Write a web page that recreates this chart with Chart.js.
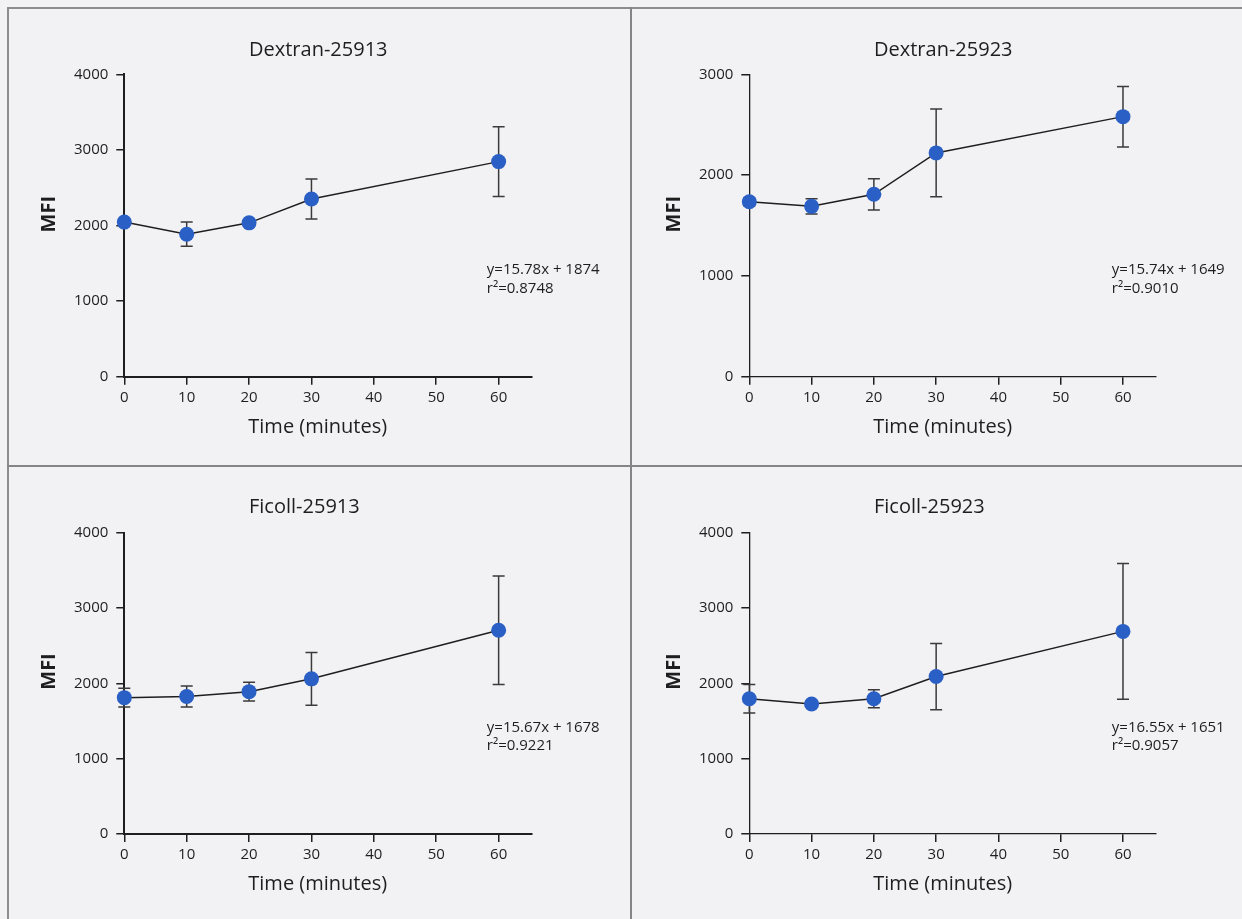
<!DOCTYPE html>
<html>
<head>
<meta charset="utf-8">
<script src="https://cdn.jsdelivr.net/npm/chart.js@4.4.1/dist/chart.umd.min.js"></script>
<style>
  html, body { margin:0; padding:0; background:#f2f2f4; }
  #page { position:relative; width:1242px; height:919px; overflow:hidden; background:#f2f2f4; }
  .frame-l { position:absolute; left:7px; top:7px; width:2px; height:912px; background:#8c8c8c; }
  .frame-t { position:absolute; left:7px; top:7px; width:1235px; height:2px; background:#8c8c8c; }
  .div-v { position:absolute; left:630px; top:7px; width:2px; height:912px; background:#858585; }
  .div-h { position:absolute; left:7px; top:465px; width:1235px; height:2px; background:#858585; }
  .panel { position:absolute; }
</style>
</head>
<body>
<div id="page">
  <div class="frame-l"></div><div class="frame-t"></div>
  <div class="div-v"></div><div class="div-h"></div>
  <div class="panel" style="left:0;top:0;width:631px;height:466px"><canvas id="c0"></canvas></div>
  <div class="panel" style="left:632px;top:0;width:610px;height:466px"><canvas id="c1"></canvas></div>
  <div class="panel" style="left:0;top:467px;width:631px;height:452px"><canvas id="c2"></canvas></div>
  <div class="panel" style="left:632px;top:467px;width:610px;height:452px"><canvas id="c3"></canvas></div>
</div>
<script>
// data
const titles = ['Dextran-25913', 'Dextran-25923', 'Ficoll-25913', 'Ficoll-25923'];
const xLabel = 'Time (minutes)';
const yLabel = 'MFI';
const timePoints = [0, 10, 20, 30, 60];
const xTicks = [0, 10, 20, 30, 40, 50, 60];

const dex13Mean = [2045, 1885, 2035, 2350, 2845];
const dex13Err  = [40, 160, 40, 265, 460];
const dex23Mean = [1735, 1690, 1810, 2220, 2580];
const dex23Err  = [40, 75, 155, 435, 300];
const fic13Mean = [1810, 1825, 1890, 2060, 2705];
const fic13Err  = [125, 140, 125, 350, 720];
const fic23Mean = [1795, 1725, 1795, 2090, 2690];
const fic23Err  = [190, 40, 120, 440, 900];

const yMax = [4000, 3000, 4000, 4000];
const fitLines = [
  ['y=15.78x + 1874', 'r\u00b2=0.8748'],
  ['y=15.74x + 1649', 'r\u00b2=0.9010'],
  ['y=15.67x + 1678', 'r\u00b2=0.9221'],
  ['y=16.55x + 1651', 'r\u00b2=0.9057']
];
const means = [dex13Mean, dex23Mean, fic13Mean, fic23Mean];
const errs = [dex13Err, dex23Err, fic13Err, fic23Err];

// plot box of each panel inside its canvas
const boxes = [
  { w:631, h:466, left:124.3, right:531.7, top:74.3, bottom:376.7, tGap:24.3, axisW:2 },
  { w:610, h:466, left:117.3, right:524,   top:74.3, bottom:376.7, tGap:24.3, axisW:1.3 },
  { w:631, h:452, left:124.3, right:531.7, top:65.7, bottom:367,   tGap:25.7, axisW:2 },
  { w:610, h:452, left:117.3, right:524,   top:65.7, bottom:367,   tGap:25.7, axisW:1.3 }
];

const FONT = "'Open Sans', sans-serif";
Chart.defaults.font.family = FONT;
Chart.defaults.color = '#1e1e1e';

const errorBars = {
  id: 'errorBars',
  beforeDatasetsDraw(chart, args, opts) {
    const { ctx, scales: { x, y } } = chart;
    const pts = chart.data.datasets[0].data;
    ctx.save();
    ctx.strokeStyle = '#3a3a3a';
    ctx.lineWidth = 1.5;
    pts.forEach((p, i) => {
      const e = opts.errors[i];
      const px = x.getPixelForValue(p.x);
      const hi = y.getPixelForValue(p.y + e), lo = y.getPixelForValue(p.y - e);
      ctx.beginPath();
      ctx.moveTo(px, hi); ctx.lineTo(px, lo);
      ctx.moveTo(px - 6, hi); ctx.lineTo(px + 6, hi);
      ctx.moveTo(px - 6, lo); ctx.lineTo(px + 6, lo);
      ctx.stroke();
    });
    ctx.restore();
  }
};

// panel title, axis titles and the fit equation
const panelText = {
  id: 'panelText',
  afterDraw(chart, args, opts) {
    const { ctx, chartArea: a } = chart;
    ctx.save();
    ctx.fillStyle = '#1e1e1e';
    ctx.textBaseline = 'middle';
    ctx.textAlign = 'left';
    ctx.font = '500 20px ' + FONT;
    ctx.fillText(opts.title, a.left + 124.7, a.top - opts.tGap);
    ctx.fillText(xLabel, a.left + 124, a.bottom + 50.5);
    ctx.font = '15px ' + FONT;
    ctx.fillText(opts.lines[0], a.left + 362.5, a.bottom - 106.5);
    ctx.fillText(opts.lines[1], a.left + 362.5, a.bottom - 88);
    ctx.translate(a.left - 75, a.bottom - 162.5);
    ctx.rotate(-Math.PI / 2);
    ctx.textAlign = 'center';
    ctx.font = 'bold 20px ' + FONT;
    ctx.fillText(yLabel, 0, 0);
    ctx.restore();
  }
};

function makeChart(i) {
  const b = boxes[i];
  const pts = timePoints.map((t, k) => ({ x: t, y: means[i][k] }));
  return new Chart(document.getElementById('c' + i), {
    type: 'scatter',
    data: { datasets: [{
      data: pts, showLine: true, clip: false,
      borderColor: '#1e1e1e', borderWidth: 1.5,
      pointRadius: 7.5, pointHoverRadius: 7.5,
      pointBackgroundColor: '#2a5fc6', pointBorderWidth: 0
    }] },
    options: {
      responsive: true, maintainAspectRatio: false, animation: false,
      layout: { padding: { left: 0, top: b.top, right: b.w - b.right, bottom: 0 } },
      plugins: {
        legend: { display: false },
        tooltip: { enabled: false },
        title: { display: false },
        errorBars: { errors: errs[i] },
        panelText: { title: titles[i], tGap: b.tGap, lines: fitLines[i] }
      },
      scales: {
        x: {
          type: 'linear', min: 0, max: 65.3,
          afterFit: s => { s.height = b.h - b.bottom; },
          border: { display: true, color: '#1e1e1e', width: b.axisW },
          grid: { drawOnChartArea: false, drawTicks: true, tickLength: 8, color: '#1e1e1e', lineWidth: 1.5 },
          ticks: { stepSize: 10, includeBounds: false, padding: 4, font: { size: 15 }, color: '#1e1e1e' },
          afterBuildTicks: s => { s.ticks = xTicks.map(v => ({ value: v })); }
        },
        y: {
          type: 'linear', min: 0, max: yMax[i],
          afterFit: s => { s.width = b.left; },
          border: { display: true, color: '#1e1e1e', width: b.axisW },
          grid: { drawOnChartArea: false, drawTicks: true, tickLength: 8, color: '#1e1e1e', lineWidth: 1.5 },
          ticks: { stepSize: 1000, padding: 8, font: { size: 15 }, color: '#1e1e1e',
            callback: v => String(v) }
        }
      }
    },
    plugins: [errorBars, panelText]
  });
}

[0, 1, 2, 3].forEach(makeChart);
</script>
</body>
</html>
